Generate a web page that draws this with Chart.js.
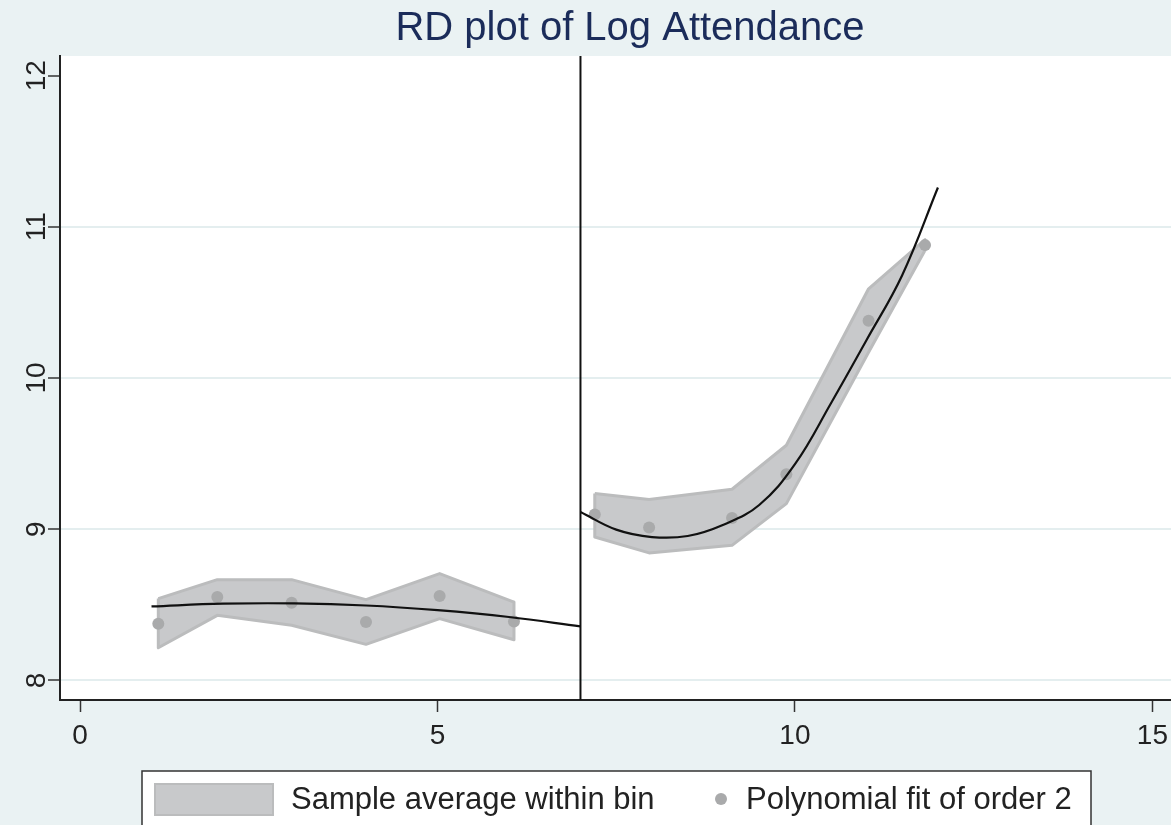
<!DOCTYPE html>
<html>
<head>
<meta charset="utf-8">
<title>RD plot of Log Attendance</title>
<script src="https://cdn.jsdelivr.net/npm/chart.js@4.4.1/dist/chart.umd.min.js"></script>
<style>
  html, body { margin: 0; padding: 0; background: #eaf2f3; }
  #wrap { width: 1171px; height: 825px; }
</style>
</head>
<body>
<div id="wrap"><canvas id="rdChart"></canvas></div>
<script>
// Bins left of the cutoff
var binXLeft = [1.095, 1.92, 2.96, 4.0, 5.03, 6.07];
var binMeanLeft = [8.375, 8.551, 8.514, 8.386, 8.558, 8.39];
var ciUpperLeft = [8.541, 8.666, 8.666, 8.534, 8.706, 8.518];
var ciLowerLeft = [8.216, 8.430, 8.364, 8.238, 8.408, 8.269];

// Bins right of the cutoff
var binXRight = [7.20, 7.96, 9.12, 9.88, 11.03, 11.82];
var binMeanRight = [9.097, 9.011, 9.074, 9.363, 10.378, 10.879];
var ciUpperRight = [9.236, 9.196, 9.264, 9.555, 10.59, 10.915];
var ciLowerRight = [8.948, 8.843, 8.893, 9.169, 10.17, 10.845];

// Fitted curves
var fitXLeft = [1, 2, 3, 4, 5, 6, 7];
var fitYLeft = [8.489, 8.507, 8.509, 8.495, 8.464, 8.419, 8.357];
var fitXRight = [7, 7.5, 8, 8.5, 9, 9.5, 10, 10.5, 11, 11.5, 12];
var fitYRight = [9.114, 8.997, 8.948, 8.955, 9.03, 9.16, 9.43, 9.83, 10.25, 10.68, 11.26];

var cutoff = 7;
var xTicks = [0, 5, 10, 15];
var yTicks = [8, 9, 10, 11, 12];
var xMin = -0.28, xMax = 15.26;
var yMin = 7.87, yMax = 12.13;

var chartTitle = 'RD plot of Log Attendance';
var fontFamily = '"Liberation Sans", Arial, sans-serif';

function toPoints(xs, ys) {
  return xs.map(function (x, i) { return { x: x, y: ys[i] }; });
}

// closed polygon: upper bound forward, lower bound backward
function bandPolygon(xs, upper, lower) {
  var pts = toPoints(xs, upper);
  for (var i = xs.length - 1; i >= 0; i--) pts.push({ x: xs[i], y: lower[i] });
  pts.push({ x: xs[0], y: upper[0] });
  return pts;
}

var bandStyle = {
  type: 'line',
  fill: 'shape',
  backgroundColor: '#c8c9cb',
  borderColor: '#bbbcbd',
  borderWidth: 3,
  borderJoinStyle: 'round',
  pointRadius: 0,
  tension: 0,
  order: 3
};

var plotBackground = {
  id: 'plotBackground',
  beforeDraw: function (chart) {
    var ctx = chart.ctx, a = chart.chartArea;
    ctx.save();
    ctx.fillStyle = '#eaf2f3';
    ctx.fillRect(0, 0, chart.width, chart.height);
    ctx.fillStyle = '#ffffff';
    ctx.fillRect(a.left, a.top, a.right - a.left, a.bottom - a.top);
    ctx.restore();
  }
};

// title, rotated y labels and the boxed legend, Stata style
var decorations = {
  id: 'decorations',
  afterDraw: function (chart) {
    var ctx = chart.ctx;
    var yScale = chart.scales.y;
    ctx.save();

    ctx.fillStyle = '#1b2c5a';
    ctx.font = '40px ' + fontFamily;
    ctx.textAlign = 'center';
    ctx.textBaseline = 'middle';
    ctx.fillText(chartTitle, 630, 29);

    ctx.fillStyle = '#222';
    ctx.font = '28px ' + fontFamily;
    yTicks.forEach(function (v) {
      ctx.save();
      ctx.translate(37, yScale.getPixelForValue(v));
      ctx.rotate(-Math.PI / 2);
      ctx.fillText(String(v), 0, 0);
      ctx.restore();
    });

    // legend box
    ctx.fillStyle = '#ffffff';
    ctx.fillRect(142, 771, 949, 80);
    ctx.strokeStyle = '#333';
    ctx.lineWidth = 1.5;
    ctx.strokeRect(142, 771, 949, 80);

    ctx.fillStyle = '#c8c9cb';
    ctx.fillRect(155, 784, 118, 31);
    ctx.strokeStyle = '#bbbcbd';
    ctx.lineWidth = 2;
    ctx.strokeRect(155, 784, 118, 31);

    ctx.fillStyle = '#a9aaab';
    ctx.beginPath();
    ctx.arc(721, 799, 6, 0, Math.PI * 2);
    ctx.fill();

    ctx.fillStyle = '#222';
    ctx.font = '31px ' + fontFamily;
    ctx.textAlign = 'left';
    ctx.fillText(chart.data.datasets[0].label, 291, 800);
    ctx.fillText(chart.data.datasets[2].label, 746, 800);
    ctx.restore();
  }
};

var ctx = document.getElementById('rdChart').getContext('2d');
var rdChart = new Chart(ctx, {
  type: 'line',
  data: {
    datasets: [
      Object.assign({ label: 'Sample average within bin', data: bandPolygon(binXLeft, ciUpperLeft, ciLowerLeft) }, bandStyle),
      Object.assign({ label: 'band right', data: bandPolygon(binXRight, ciUpperRight, ciLowerRight) }, bandStyle),
      {
        label: 'Polynomial fit of order 2',
        type: 'scatter',
        data: toPoints(binXLeft, binMeanLeft).concat(toPoints(binXRight, binMeanRight)),
        backgroundColor: '#a9aaab',
        borderWidth: 0,
        pointRadius: 6,
        order: 2
      },
      {
        label: 'fit left',
        data: toPoints(fitXLeft, fitYLeft),
        borderColor: '#111',
        borderWidth: 2.2,
        pointRadius: 0,
        tension: 0.4,
        fill: false,
        order: 1
      },
      {
        label: 'fit right',
        data: toPoints(fitXRight, fitYRight),
        borderColor: '#111',
        borderWidth: 2.2,
        pointRadius: 0,
        tension: 0.4,
        fill: false,
        order: 1
      },
      {
        label: 'cutoff',
        data: [{ x: cutoff, y: yMin }, { x: cutoff, y: yMax }],
        borderColor: '#111',
        borderWidth: 2,
        pointRadius: 0,
        fill: false,
        order: 0
      }
    ]
  },
  options: {
    responsive: true,
    maintainAspectRatio: false,
    animation: false,
    layout: { autoPadding: false, padding: { top: 56, left: 0, right: 0, bottom: 0 } },
    plugins: {
      legend: { display: false },
      title: { display: false },
      tooltip: { enabled: false }
    },
    scales: {
      x: {
        type: 'linear',
        min: xMin,
        max: xMax,
        afterFit: function (scale) {
          scale.height = 125;
          scale.paddingLeft = 0;
          scale.paddingRight = 0;
        },
        afterBuildTicks: function (scale) {
          scale.ticks = xTicks.map(function (v) { return { value: v }; });
        },
        ticks: {
          includeBounds: false,
          maxRotation: 0,
          padding: 7,
          color: '#222',
          font: { family: fontFamily, size: 28 }
        },
        grid: { drawOnChartArea: false, tickLength: 12, tickColor: '#333', tickWidth: 1.5 },
        border: { color: '#222', width: 2 }
      },
      y: {
        type: 'linear',
        min: yMin,
        max: yMax,
        afterFit: function (scale) {
          scale.width = 60;
          scale.paddingTop = 0;
          scale.paddingBottom = 0;
        },
        afterBuildTicks: function (scale) {
          scale.ticks = yTicks.map(function (v) { return { value: v }; });
        },
        ticks: {
          includeBounds: false,
          color: 'rgba(0,0,0,0)',
          font: { family: fontFamily, size: 12 }
        },
        grid: {
          color: function (c) { return c.tick && c.tick.value === 12 ? 'rgba(0,0,0,0)' : '#e4eeef'; },
          lineWidth: 2,
          tickLength: 12,
          tickColor: '#333',
          tickWidth: 1.5
        },
        border: { color: '#222', width: 2 }
      }
    }
  },
  plugins: [plotBackground, decorations]
});
</script>
</body>
</html>
